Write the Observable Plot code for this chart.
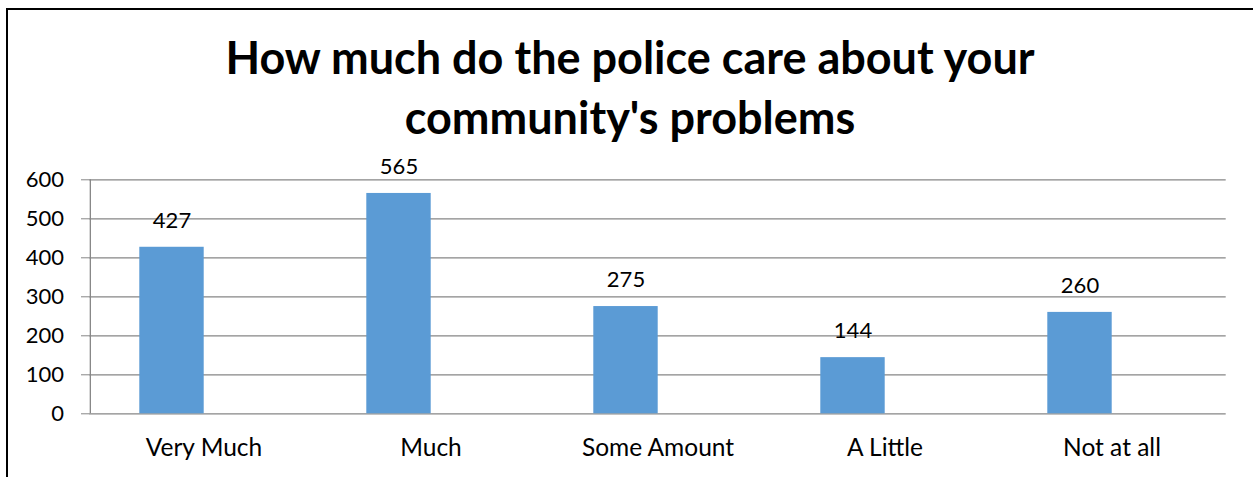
<!DOCTYPE html>
<html>
<head>
<meta charset="utf-8">
<script src="https://cdn.jsdelivr.net/npm/d3@7"></script>
<script src="https://cdn.jsdelivr.net/npm/@observablehq/plot@0.6"></script>
<style>
  html, body { margin: 0; padding: 0; background: #fff; }
  #wrap { position: relative; width: 1253px; height: 477px; overflow: hidden; font-family: Lato, "Open Sans", sans-serif; }
  #frame { position: absolute; left: 6px; top: 8px; width: 1300px; height: 600px; border-left: 2.5px solid #000; border-top: 2px solid #000; box-sizing: border-box; }
  #title { position: absolute; left: 0; top: 27px; width: 1260px; text-align: center; font-weight: bold; font-size: 45px; line-height: 60px; color: #000; z-index: 2; }
  #chart { position: absolute; left: 0; top: 120px; z-index: 1; }
</style>
</head>
<body>
<div id="wrap">
  <div id="frame"></div>
  <div id="title">How much do the police care about your<br>community's problems</div>
  <div id="chart"></div>
</div>
<script>
const categories = ["Very Much", "Much", "Some Amount", "A Little", "Not at all"];
const counts = [427, 565, 275, 144, 260];
const yTicks = [0, 100, 200, 300, 400, 500, 600];

const data = categories.map((c, i) => ({category: c, count: counts[i]}));

const plot = Plot.plot({
  width: 1253,
  height: 357,
  marginTop: 59.3,
  marginBottom: 63.7,
  marginLeft: 89,
  marginRight: 27.3,
  style: {fontFamily: "Lato, 'Open Sans', sans-serif", fontSize: "22px", color: "#000", background: "transparent"},
  x: {domain: categories, padding: 0, label: null},
  y: {domain: [0, 600], label: null},
  marks: [
    Plot.gridY(yTicks, {stroke: "#868686", strokeOpacity: 1, strokeWidth: 1.3}),
    Plot.barY(data, {x: "category", y: "count", fill: "#5B9BD5", insetLeft: 49.3, insetRight: 113.3}),
    Plot.text(data, {x: "category", y: "count", text: d => String(d.count), dx: -32, dy: -26.5, fill: "#000", fontSize: 22}),
    Plot.axisY(yTicks, {tickSize: 8, tickPadding: 17.5, stroke: "#868686", fill: "#000", tickFormat: d => String(d), fontSize: 22}),
    Plot.ruleX([0], {x: () => categories[0], y1: 0, y2: 600, stroke: "#868686", strokeWidth: 1.3, dx: -113.67}),
    Plot.axisX({tickSize: 0, tickPadding: 25, fill: "#000", fontSize: 24.5}),
  ]
});
document.getElementById("chart").appendChild(plot);
</script>
</body>
</html>
